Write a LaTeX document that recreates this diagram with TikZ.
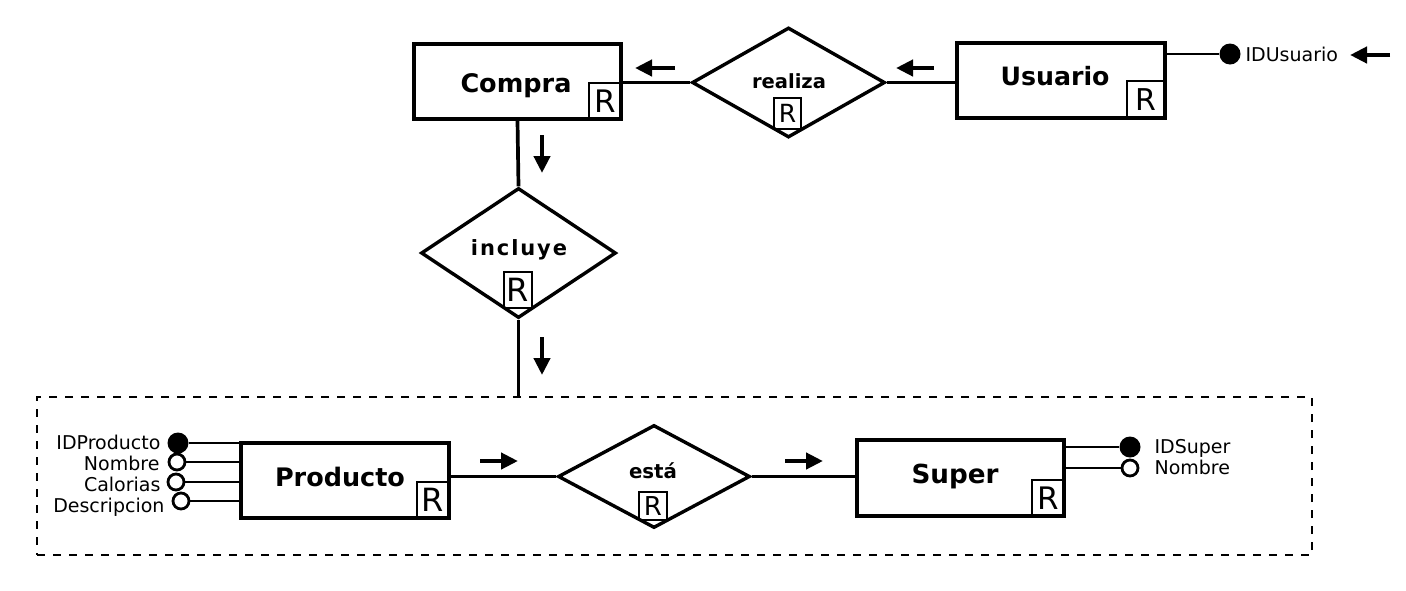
\documentclass[tikz,border=0pt]{standalone}
\usepackage{fontspec}
\usepackage{graphicx}
\setmainfont{DejaVu Sans}
\newfontfamily\spacedfont[LetterSpace=9]{DejaVu Sans}
\usetikzlibrary{shapes.geometric,arrows.meta}
% set a label at a given overall width
\newcommand\fitwidth[2]{\resizebox{#1}{!}{#2}}

\begin{document}
\begin{tikzpicture}[x=1pt,y=-1pt,
  entity/.style={draw,line width=3.4pt,inner sep=0pt,fill=white},
  relation/.style={draw,shape=diamond,line width=3.4pt,inner sep=0pt,fill=white},
  rbox/.style={draw,line width=1.4pt,inner sep=0pt},
  entname/.style={anchor=base,font=\bfseries\fontsize{26}{30}\selectfont},
  relname/.style={anchor=base,font=\bfseries\fontsize{19}{23}\selectfont},
  attrtext/.style={font=\fontsize{19}{22}\selectfont},
  conn/.style={line width=3.7pt},
  attrline/.style={line width=2.8pt},
  keyattr/.style={circle,fill=black,inner sep=0pt,minimum size=21pt},
  plainattr/.style={circle,draw,line width=2.8pt,fill=white,inner sep=0pt,minimum size=16pt},
  flow/.style={line width=4.2pt,-{Triangle[length=17pt,width=16pt]}},
]
\useasboundingbox (0,0) rectangle (1406,590);

% aggregation frame
\node[draw,dash pattern=on 8pt off 8pt,line width=2.8pt,inner sep=0pt,
      minimum width=1275pt,minimum height=158pt] (grupo) at (674.5,476) {};

% entities
\node[entity,minimum width=207pt,minimum height=75pt] (compra) at (517.5,81.5) {};
\node[entity,minimum width=208pt,minimum height=75pt] (usuario) at (1061,80.5) {};
\node[entity,minimum width=208pt,minimum height=75pt] (producto) at (345,480.5) {};
\node[entity,minimum width=207pt,minimum height=76pt] (super) at (960.5,478) {};

% relationships
\node[relation,minimum width=193pt,minimum height=110pt] (realiza) at (788.5,82.5) {};
\node[relation,minimum width=195pt,minimum height=130pt] (incluye) at (518.5,253) {};
\node[relation,minimum width=192pt,minimum height=103pt] (esta) at (654,476.5) {};

% names
\node[entname] (tcompra) at (516,92.5) {\fitwidth{111pt}{Compra}};
\node[entname] (tusuario) at (1055,85) {\fitwidth{109pt}{Usuario}};
\node[entname] (tproducto) at (340,486) {\fitwidth{130pt}{Producto}};
\node[entname] (tsuper) at (955,483) {\fitwidth{87pt}{Super}};
\node[relname] (trealiza) at (789,88) {\fitwidth{74pt}{realiza}};
\node[relname,font=\spacedfont\bfseries\fontsize{21}{24}\selectfont] (tincluye) at (519,255) {incluye};
\node[relname] (testa) at (653,478) {\fitwidth{48pt}{está}};

% R boxes
\node[rbox,minimum width=32pt,minimum height=36pt,font=\fontsize{31}{31}\selectfont] (rcompra) at (605,101) {R};
\node[rbox,minimum width=38pt,minimum height=37pt,font=\fontsize{30}{30}\selectfont] (rusuario) at (1146,99.5) {R};
\node[rbox,minimum width=32pt,minimum height=36pt,font=\fontsize{32}{32}\selectfont] (rproducto) at (433,500) {R};
\node[rbox,minimum width=32pt,minimum height=36pt,font=\fontsize{31}{31}\selectfont] (rsuper) at (1048,498) {R};
\node[rbox,minimum width=27pt,minimum height=31pt,font=\fontsize{25}{25}\selectfont] (rrealiza) at (787.5,113.5) {R};
\node[rbox,minimum width=28pt,minimum height=36pt,font=\fontsize{32}{32}\selectfont] (rincluye) at (518,290) {R};
\node[rbox,minimum width=28pt,minimum height=28pt,font=\fontsize{26}{26}\selectfont] (resta) at (653,506) {R};

% connectors
\draw[conn] (compra.east |- realiza.west) -- (realiza.west);
\draw[conn] (realiza.east) -- (realiza.east -| usuario.west);
\draw[conn] (compra.south) -- (incluye.north);
\draw[conn] (incluye.south) -- (incluye.south |- grupo.north);
\draw[conn] (esta.west -| producto.east) -- (esta.west);
\draw[conn] (esta.east) -- (esta.east -| super.west);

% attributes of Usuario
\node[keyattr] (idusuario) at (1230,54) {};
\draw[line width=2.2pt] (usuario.east |- idusuario) -- (idusuario);
\node[attrtext,anchor=base west] (tidusuario) at (1242,61) {IDUsuario};

% attributes of Producto
\node[keyattr] (idproducto) at (178,443) {};
\node[plainattr] (pnombre) at (177,462) {};
\node[plainattr] (calorias) at (176,482) {};
\node[plainattr] (descripcion) at (181,501) {};
\draw[attrline] (idproducto) -- (idproducto -| producto.west);
\draw[attrline] (pnombre) -- ([xshift=2pt]pnombre -| producto.west);
\draw[attrline] (calorias) -- ([xshift=2pt]calorias -| producto.west);
\draw[attrline] (descripcion) -- ([xshift=2pt]descripcion -| producto.west);
\node[attrtext,anchor=base east] (tidproducto) at (164,449) {IDProducto};
\node[attrtext,anchor=base east] (tpnombre) at (163,470) {Nombre};
\node[attrtext,anchor=base east] (tcalorias) at (164,491) {Calorias};
\node[attrtext,anchor=base east] (tdescripcion) at (168,512) {Descripcion};

% attributes of Super
\node[keyattr] (idsuper) at (1130,447) {};
\node[plainattr] (snombre) at (1130,468) {};
\draw[attrline] (super.east |- idsuper) -- (idsuper);
\draw[attrline] (super.east |- snombre) -- (snombre);
\node[attrtext,anchor=base west] (tidsuper) at (1151,453) {IDSuper};
\node[attrtext,anchor=base west] (tsnombre) at (1151,474) {Nombre};

% reading-direction arrows
\coordinate (a1s) at (675,68);   \coordinate (a1e) at (635,68);
\coordinate (a2s) at (934,68);   \coordinate (a2e) at (896,68);
\coordinate (a3s) at (1390,55);  \coordinate (a3e) at (1350,55);
\coordinate (a4s) at (542,135);  \coordinate (a4e) at (542,173);
\coordinate (a5s) at (542,337);  \coordinate (a5e) at (542,375);
\coordinate (a6s) at (480,461);  \coordinate (a6e) at (518,461);
\coordinate (a7s) at (785,461);  \coordinate (a7e) at (823,461);
\foreach \i in {1,...,7} {\draw[flow] (a\i s) -- (a\i e);}
\end{tikzpicture}
\end{document}
